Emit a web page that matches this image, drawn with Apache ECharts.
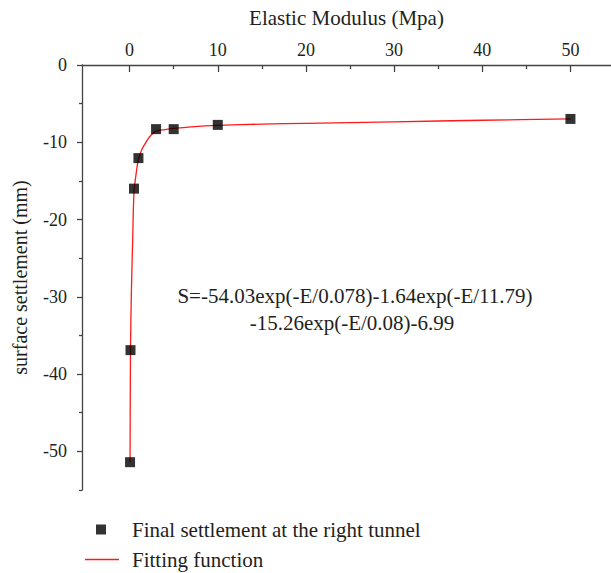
<!DOCTYPE html>
<html>
<head>
<meta charset="utf-8">
<script src="https://cdn.jsdelivr.net/npm/echarts@6/dist/echarts.min.js"></script>
<style>html,body{margin:0;padding:0;background:#fff}#c{width:611px;height:573px}</style>
</head>
<body>
<div id="c"></div>
<script>
const xTitle = 'Elastic Modulus (Mpa)';
const yTitle = 'surface settlement (mm)';
const xTicks = [0, 10, 20, 30, 40, 50];
const xMinorTicks = [5, 15, 25, 35, 45];
const yTicks = [0, -10, -20, -30, -40, -50];
const yMinorTicks = [-5, -15, -25, -35, -45, -55];
const pointName = 'Final settlement at the right tunnel';
const fitName = 'Fitting function';
const pointE = [0.05, 0.1, 0.5, 1, 3, 5, 10, 50];
const pointS = [-51.4, -36.9, -16.0, -12.05, -8.3, -8.3, -7.75, -6.98];
const fitE = [0.05, 0.1, 0.2, 0.35, 0.5, 0.75, 1, 1.4, 1.8, 2.3, 3, 4, 5, 7, 10, 15, 20, 30, 40, 50];
const fitS = [-51.4, -36.9, -29.5, -22.5, -16.4, -14.0, -12.2, -10.9, -10.1, -9.25, -8.55, -8.35, -8.2, -8.0, -7.82, -7.65, -7.55, -7.35, -7.15, -6.98];
const eqLine1 = 'S=-54.03exp(-E/0.078)-1.64exp(-E/11.79)';
const eqLine2 = '-15.26exp(-E/0.08)-6.99';

const FONT = '"Liberation Serif", "DejaVu Serif", serif';
const axisColor = '#444';
const textColor = '#231f20';

const chart = echarts.init(document.getElementById('c'), null, {renderer: 'svg'});
const xMin = -5.4, xMax = 54.6, yMin = -55, yMax = 0;
chart.setOption({
  animation: false,
  backgroundColor: '#fff',
  grid: {left: 82, right: 0, top: 65, bottom: 83, containLabel: false},
  xAxis: [{
    type: 'value', position: 'top', min: xMin, max: xMax,
    name: xTitle, nameLocation: 'middle', nameGap: 37,
    nameTextStyle: {color: textColor, fontFamily: FONT, fontSize: 21},
    axisLine: {show: true, onZero: false, lineStyle: {color: axisColor, width: 1.3}},
    axisTick: {show: true, inside: true, length: 7, customValues: xTicks, lineStyle: {color: axisColor, width: 1.3}},
    axisLabel: {show: true, customValues: xTicks, margin: 6, color: textColor, fontFamily: FONT, fontSize: 18},
    splitLine: {show: false}
  }, {
    type: 'value', position: 'top', min: xMin, max: xMax,
    axisLine: {show: false, onZero: false},
    axisTick: {show: true, inside: true, length: 4, customValues: xMinorTicks, lineStyle: {color: axisColor, width: 1.3}},
    axisLabel: {show: false},
    splitLine: {show: false}
  }],
  yAxis: [{
    type: 'value', position: 'left', min: yMin, max: yMax,
    name: yTitle, nameLocation: 'middle', nameGap: 52,
    nameTextStyle: {color: textColor, fontFamily: FONT, fontSize: 20},
    axisLine: {show: true, onZero: false, lineStyle: {color: axisColor, width: 1.3}},
    axisTick: {show: true, inside: false, length: 5, customValues: yTicks, lineStyle: {color: axisColor, width: 1.3}},
    axisLabel: {show: true, customValues: yTicks, margin: 15, color: textColor, fontFamily: FONT, fontSize: 18},
    splitLine: {show: false}
  }, {
    type: 'value', position: 'left', min: yMin, max: yMax,
    axisLine: {show: false, onZero: false},
    axisTick: {show: true, inside: false, length: 3, customValues: yMinorTicks, lineStyle: {color: axisColor, width: 1.3}},
    axisLabel: {show: false},
    splitLine: {show: false}
  }],
  legend: [{
    data: [{name: pointName, icon: 'rect'}], left: 96, top: 519, orient: 'vertical',
    itemWidth: 10, itemHeight: 10, padding: 0,
    textStyle: {color: textColor, fontFamily: FONT, fontSize: 21, padding: [0, 0, 0, 21]}
  }, {
    data: [{name: fitName, icon: 'rect'}], left: 85, top: 549, orient: 'vertical',
    itemWidth: 34, itemHeight: 1.5, padding: 0,
    textStyle: {color: textColor, fontFamily: FONT, fontSize: 21, padding: [0, 0, 0, 8]}
  }],
  graphic: [
    {type: 'text', x: 355, y: 296, style: {text: eqLine1, align: 'center', verticalAlign: 'middle', fill: textColor, font: '21px ' + FONT}},
    {type: 'text', x: 352, y: 323, style: {text: eqLine2, align: 'center', verticalAlign: 'middle', fill: textColor, font: '21px ' + FONT}}
  ],
  series: [{
    name: fitName, type: 'line', xAxisIndex: 0, yAxisIndex: 0,
    data: fitE.map((e, i) => [e, fitS[i]]),
    showSymbol: false, symbol: 'none', smooth: 0.3,
    lineStyle: {color: '#ff1a1a', width: 1.3}, itemStyle: {color: '#ff1a1a'}, z: 2
  }, {
    name: pointName, type: 'scatter', xAxisIndex: 0, yAxisIndex: 0,
    data: pointE.map((e, i) => [e, pointS[i]]),
    symbol: 'rect', symbolSize: 10,
    itemStyle: {color: '#000'}, z: 3
  }]
});
</script>
</body>
</html>
